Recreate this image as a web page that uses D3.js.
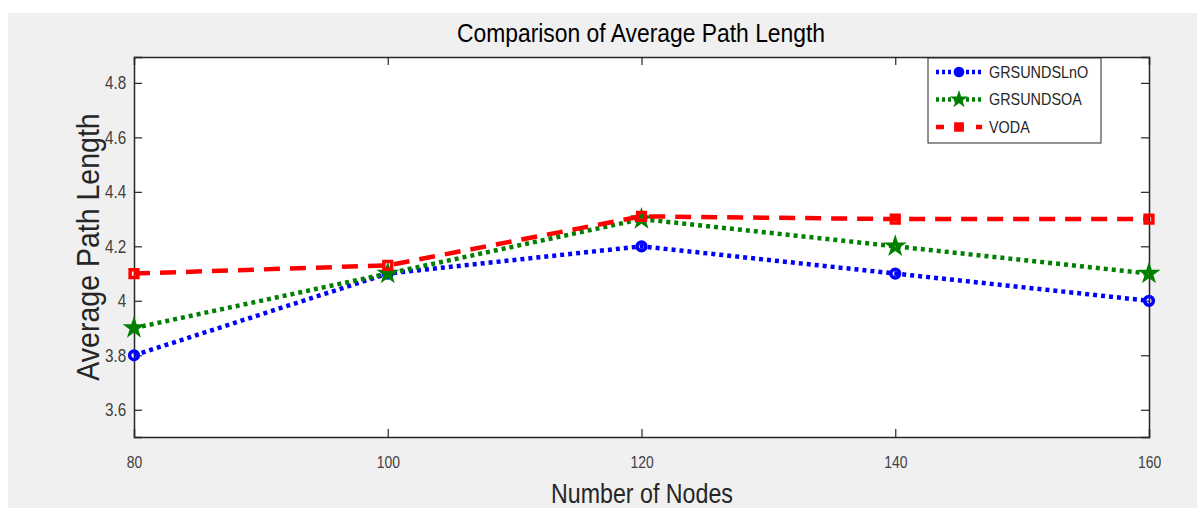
<!DOCTYPE html>
<html>
<head>
<meta charset="utf-8">
<script src="https://cdn.jsdelivr.net/npm/d3@7"></script>
<style>
  body { margin: 0; background: #fff; }
  svg { display: block; }
  text { font-family: "Liberation Sans", Arial, sans-serif; }
</style>
</head>
<body>
<svg></svg>
<script>
// chart values
var nodes = [80, 100, 120, 140, 160];
var grsLnO = [3.8, 4.1, 4.2, 4.1, 4.0];
var grsOA = [3.9, 4.1, 4.3, 4.2, 4.1];
var voda = [4.1, 4.13, 4.31, 4.3, 4.3];
var seriesNames = ['GRSUNDSLnO', 'GRSUNDSOA', 'VODA'];
var yTicks = [3.6, 3.8, 4, 4.2, 4.4, 4.6, 4.8];

function main() {
    var svgWidth = 1197, svgHeight = 508;
    var svg = d3.select('svg').attr('width', svgWidth).attr('height', svgHeight);

    // grey figure background
    svg.append('rect').attr('x', 8).attr('y', 13)
        .attr('width', svgWidth - 8).attr('height', svgHeight - 13)
        .attr('fill', '#f0f0f0');

    var left = 134, right = 1149, top = 57, bottom = 437;

    var xScale = d3.scaleLinear().domain([80, 160]).range([left, right]);
    var yScale = d3.scaleLinear().domain([3.5, 4.895]).range([bottom, top]);

    svg.append('rect').attr('x', left).attr('y', top)
        .attr('width', right - left).attr('height', bottom - top)
        .attr('fill', '#fff');

    // axes
    var xAxis = svg.append('g').attr('transform', `translate(0,${bottom})`)
        .call(d3.axisBottom(xScale).tickValues(nodes).tickSize(-8).tickPadding(19).tickFormat(d3.format('d')));
    var yAxis = svg.append('g').attr('transform', `translate(${left},0)`)
        .call(d3.axisLeft(yScale).tickValues(yTicks).tickSize(-8).tickPadding(9).tickFormat(function(d) { return d === 4 ? '4' : d.toFixed(1) }));
    svg.append('g').attr('transform', `translate(0,${top})`)
        .call(d3.axisTop(xScale).tickValues(nodes).tickSize(-8).tickFormat(''));
    svg.append('g').attr('transform', `translate(${right},0)`)
        .call(d3.axisRight(yScale).tickValues(yTicks).tickSize(-8).tickFormat(''));

    svg.selectAll('.domain').attr('stroke', '#262626').attr('stroke-width', 1.5);
    svg.selectAll('.tick line').attr('stroke', '#262626').attr('stroke-width', 1.2);
    xAxis.selectAll('text').attr('font-size', 17).attr('fill', '#404040').attr('transform', 'scale(0.82,1)');
    yAxis.selectAll('text').attr('font-size', 18).attr('fill', '#404040').attr('transform', 'scale(0.85,1)');

    // remove end ticks on the edges
    svg.selectAll('.tick').filter(function(d) { return d === 80 || d === 160 }).select('line').remove();

    var series = [
        { name: seriesNames[0], values: grsLnO, color: '#0000ff', dash: '4,4', marker: d3.symbolCircle, size: 60 },
        { name: seriesNames[1], values: grsOA, color: '#007f00', dash: '4,4', marker: d3.symbolStar, size: 45 },
        { name: seriesNames[2], values: voda, color: '#ff0000', dash: '16,10', marker: d3.symbolSquare, size: 60 }
    ];

    var line = d3.line()
        .x(function(d, i) { return xScale(nodes[i]) })
        .y(function(d) { return yScale(d) });

    series.forEach(function(s) {
        svg.append('path').datum(s.values)
            .attr('d', line)
            .attr('fill', 'none')
            .attr('stroke', s.color)
            .attr('stroke-width', 4.5)
            .attr('stroke-dasharray', s.dash);
        svg.selectAll(null).data(s.values).enter().append('path')
            .attr('transform', function(d, i) { return `translate(${xScale(nodes[i])},${yScale(d)})` })
            .attr('d', d3.symbol().type(s.marker).size(s.size))
            .attr('fill', 'none')
            .attr('stroke', s.color)
            .attr('stroke-width', 3.5);
    });

    // legend
    var lg = svg.append('g');
    lg.append('rect').attr('x', 928).attr('y', 58).attr('width', 173).attr('height', 85)
        .attr('fill', '#fff').attr('stroke', '#262626').attr('stroke-width', 1);
    series.forEach(function(s, i) {
        var y = 72 + i * 27.5;
        lg.append('line').attr('x1', 936).attr('x2', 982).attr('y1', y).attr('y2', y)
            .attr('stroke', s.color).attr('stroke-width', 4.5)
            .attr('stroke-dasharray', i === 2 ? '8,12' : '3,3');
        lg.append('path').attr('transform', `translate(959,${y})`)
            .attr('d', d3.symbol().type(s.marker).size(s.size))
            .attr('fill', s.color).attr('stroke', s.color).attr('stroke-width', 2);
        lg.append('text').attr('transform', `translate(989,${y}) scale(0.9,1)`).attr('dy', '0.35em')
            .attr('font-size', 16).attr('fill', '#262626').text(s.name);
    });

    // titles
    svg.append('text').attr('transform', 'translate(641,42) scale(0.88,1)').attr('text-anchor', 'middle')
        .attr('font-size', 26).attr('fill', '#000').text('Comparison of Average Path Length');
    svg.append('text').attr('transform', 'translate(642,503) scale(0.86,1)').attr('text-anchor', 'middle')
        .attr('font-size', 27).attr('fill', '#262626').text('Number of Nodes');
    svg.append('text').attr('transform', 'translate(99,247) rotate(-90) scale(0.92,1)').attr('text-anchor', 'middle')
        .attr('font-size', 31).attr('fill', '#262626').text('Average Path Length');
}
main();
</script>
</body>
</html>
